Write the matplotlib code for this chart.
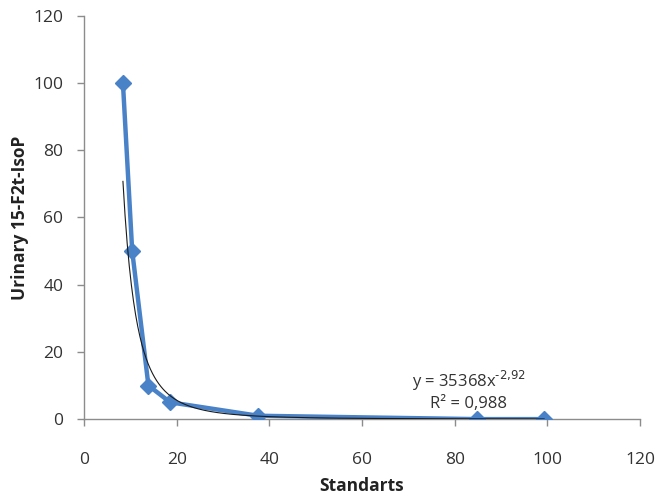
import numpy as np
import matplotlib
matplotlib.use("Agg")
import matplotlib.pyplot as plt

x_std = [8.4, 10.4, 13.9, 18.6, 37.6, 84.8, 99.3]
y_iso = [100, 50, 10, 5, 1, 0, 0]
coef_a = 35368
coef_b = -2.92
trend_range = (8.4, 99.3)
x_ticks = [0, 20, 40, 60, 80, 100, 120]
y_ticks = [0, 20, 40, 60, 80, 100, 120]

plt.rcParams['font.family'] = ['Open Sans', 'DejaVu Sans']

fig = plt.figure(figsize=(6.7, 4.96), dpi=100)
ax = fig.add_axes([0.1254, 0.155, 0.8299, 0.813])

blue = '#4a82c8'
ax.plot(x_std, y_iso, color=blue, lw=3.2, marker='D', markersize=8.5,
        markerfacecolor=blue, markeredgecolor=blue, zorder=3, solid_joinstyle='round')

xt = np.linspace(trend_range[0], trend_range[1], 400)
ax.plot(xt, coef_a * xt ** coef_b, color='#1a1a1a', lw=0.8, zorder=4)

ax.set_xlim(0, 120)
ax.set_ylim(0, 120)
ax.set_xticks(x_ticks)
ax.set_yticks(y_ticks)
for s in ['top', 'right']:
    ax.spines[s].set_visible(False)
for s in ['left', 'bottom']:
    ax.spines[s].set_color('#8c8c8c')
    ax.spines[s].set_linewidth(1.0)
ax.tick_params(axis='both', colors='#8c8c8c', labelcolor='#333333',
               labelsize=12.5, length=5, width=1.0)
ax.tick_params(axis='x', pad=19)
ax.tick_params(axis='y', pad=10)

ax.set_xlabel('Standarts', fontsize=12.5, fontweight='bold', color='#222222', labelpad=6)
ax.set_ylabel('Urinary 15-F2t-IsoP', fontsize=12.5, fontweight='bold', color='#222222', labelpad=3)

ax.text(83, 9.5, 'y = 35368x$^{\\text{-2,92}}$', fontsize=12, color='#333333', ha='center', va='baseline')
ax.text(83, 3.2, 'R² = 0,988', fontsize=12, color='#333333', ha='center', va='baseline')

fig.savefig('out.png', dpi=100)
